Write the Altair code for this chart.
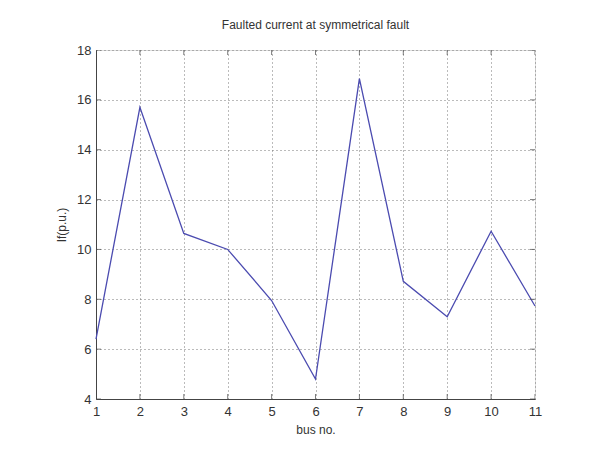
import altair as alt
import pandas as pd

bus = [1, 2, 3, 4, 5, 6, 7, 8, 9, 10, 11]
current = [6.4, 15.7, 10.64, 10.0, 7.95, 4.8, 16.85, 8.72, 7.3, 10.73, 7.73]
x_ticks = [1, 2, 3, 4, 5, 6, 7, 8, 9, 10, 11]
y_ticks = [4, 6, 8, 10, 12, 14, 16, 18]

df = pd.DataFrame({"bus": bus, "If": current})

FONT = "Liberation Sans"
LINE = "#4b4bb0"

xs = alt.Scale(domain=[1, 11], nice=False, zero=False)
ys = alt.Scale(domain=[4, 18], nice=False, zero=False)

x_axis = alt.Axis(values=x_ticks, title="bus no.", grid=True, gridDash=[1, 3],
                  gridColor="#777", gridWidth=1, tickSize=0, labelPadding=6,
                  labelFontSize=13, titleFontSize=12, titleFontWeight="normal",
                  titlePadding=6, labelColor="#333", titleColor="#333",
                  domainColor="#444", labelFont=FONT, titleFont=FONT,
                  labelFlush=False)
y_axis = alt.Axis(values=y_ticks, title="If(p.u.)", grid=True, gridDash=[1, 3],
                  gridColor="#777", gridWidth=1, tickSize=0, labelPadding=5,
                  labelFontSize=13, titleFontSize=12, titleFontWeight="normal",
                  titlePadding=8, labelColor="#333", titleColor="#333",
                  domainColor="#444", labelFont=FONT, titleFont=FONT,
                  labelFlush=False)

line = alt.Chart(df).mark_line(color=LINE, strokeWidth=1.3).encode(
    x=alt.X("bus:Q", scale=xs, axis=x_axis),
    y=alt.Y("If:Q", scale=ys, axis=y_axis),
)

# inward tick marks on all four sides (MATLAB style)
xt = pd.DataFrame([{"t": t, "edge": e} for t in x_ticks for e in [4, 18]])
yt = pd.DataFrame([{"t": t, "edge": e} for t in y_ticks for e in [1, 11]])

xtick = alt.Chart(xt).mark_tick(orient="vertical", size=10, thickness=1,
                                color="#444", clip=True).encode(
    x=alt.X("t:Q", scale=xs), y=alt.Y("edge:Q", scale=ys))
ytick = alt.Chart(yt).mark_tick(orient="horizontal", size=10, thickness=1,
                                color="#444", clip=True).encode(
    y=alt.Y("t:Q", scale=ys), x=alt.X("edge:Q", scale=xs))

chart = alt.layer(line, xtick, ytick).properties(
    width=439, height=349,
    title=alt.TitleParams("Faulted current at symmetrical fault", fontSize=12,
                          font=FONT, fontWeight="normal", color="#333",
                          offset=12, anchor="middle"),
    autosize=alt.AutoSizeParams(type="none"),
    padding={"left": 88, "top": 42, "right": 50, "bottom": 40},
).configure_view(stroke="#444", strokeWidth=1).configure(background="white")

chart.save("out.html", embed_options={"renderer": "svg", "actions": False})
